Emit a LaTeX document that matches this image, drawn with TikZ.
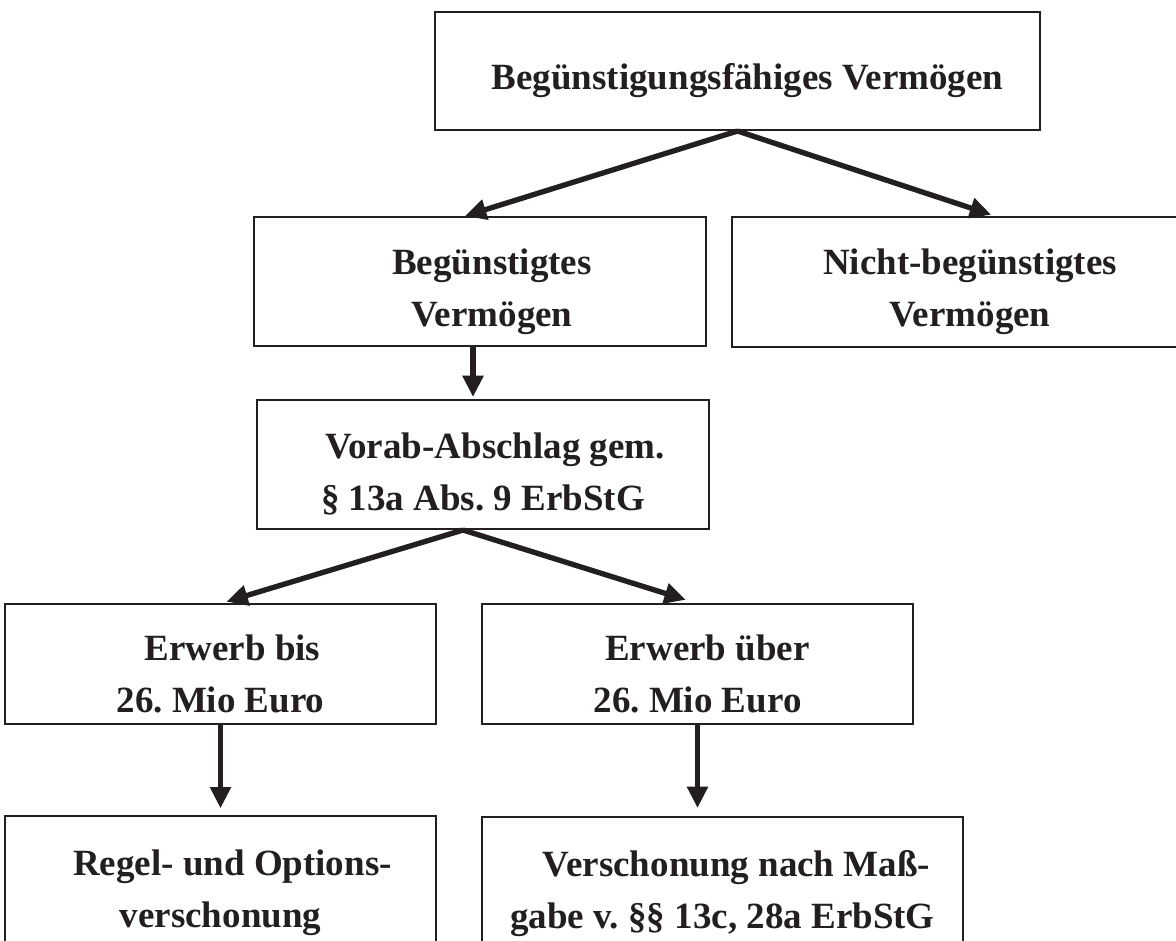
\documentclass[tikz,border=0pt]{standalone}
\usepackage{fontspec}
\setmainfont{Liberation Serif}
\usepackage{tikz}
\usetikzlibrary{arrows.meta}
\definecolor{ink}{RGB}{35,31,32}
\newcommand{\upgap}{\rule{0pt}{34pt}}

\tikzset{
  box/.style={draw=ink, line width=1.5pt, rectangle, align=center, inner sep=0pt, text=ink,
    font=\fontsize{27.75}{39}\selectfont\bfseries\frenchspacing},
  arr/.style={draw=ink, line width=4pt, -{Triangle[length=16pt,width=15pt]}}
}

\begin{document}
\begin{tikzpicture}[x=0.75pt,y=0.75pt,yscale=-1,xscale=1]
\useasboundingbox (0,0) rectangle (1176,940);
\clip (0,0) rectangle (1176,940);

%Shape: Rectangle
\node[box, minimum width=453.75pt, minimum height=88.5pt] (top) at (737.5,71) {\upgap\hspace*{15pt}Begünstigungsfähiges Vermögen};
%Shape: Rectangle
\node[box, minimum width=339pt, minimum height=96.75pt] (beg) at (480,281.5) {\upgap\hspace*{18pt}Begünstigtes\\\hspace*{18pt}Vermögen};
%Shape: Rectangle
\node[box, minimum width=357pt, minimum height=97.5pt] (nbeg) at (970,282) {\upgap Nicht-begünstigtes\\Vermögen};
%Shape: Rectangle
\node[box, minimum width=339pt, minimum height=96.75pt] (vorab) at (483,464.5) {\upgap\hspace*{18pt}Vorab-Abschlag gem.\\§ 13a Abs. 9 ErbStG};
%Shape: Rectangle
\node[box, minimum width=323.25pt, minimum height=90pt] (bis) at (220.5,664) {\upgap\hspace*{18pt}Erwerb bis\\26. Mio Euro};
%Shape: Rectangle
\node[box, minimum width=323.25pt, minimum height=90pt] (ueber) at (697.5,664) {\upgap\hspace*{15pt}Erwerb über\\26. Mio Euro};
%Shape: Rectangle
\node[box, minimum width=323.25pt, minimum height=100.5pt] (regel) at (220.5,883) {\upgap\hspace*{18pt}Regel- und Options-\\verschonung};
%Shape: Rectangle
\node[box, minimum width=360.75pt, minimum height=99.75pt] (verschon) at (722.5,883.5) {\upgap\hspace*{21pt}Verschonung nach Maß-\\gabe v. §§ 13c, 28a ErbStG};

%Straight Lines
\draw[arr] (top.south) -- (465,0 |- beg.north);
\draw[arr, shorten >=3pt] (top.south) -- (995,0 |- nbeg.north);
%Straight Lines
\draw[arr, shorten >=1.5pt] (473,0 |- beg.south) -- (473,0 |- vorab.north);
%Straight Lines
\draw[arr, shorten >=3.5pt] (463,0 |- vorab.south) -- (222,0 |- bis.north);
\draw[arr, shorten >=8pt] (463,0 |- vorab.south) -- (696,0 |- ueber.north);
%Straight Lines
\draw[arr, shorten >=5pt] (bis.south) -- (bis.south |- regel.north);
\draw[arr, shorten >=6pt] (ueber.south) -- (ueber.south |- verschon.north);

\end{tikzpicture}
\end{document}
